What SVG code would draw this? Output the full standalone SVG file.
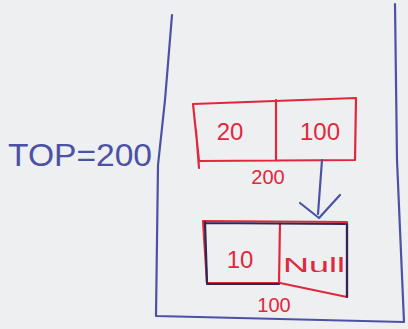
<svg xmlns="http://www.w3.org/2000/svg" width="408" height="329" viewBox="0 0 408 329">
<style>
.bg{fill:#eeeff1}
.blue{fill:none;stroke:#4b52a6;stroke-width:2.2;stroke-linecap:round;stroke-linejoin:round}
.navy{fill:none;stroke:#2c2a55;stroke-width:2.2;stroke-linecap:round}
.red{fill:none;stroke:#e0283c;stroke-width:2.2;stroke-linecap:round;stroke-linejoin:round}
.rt{fill:#e0283c;font-family:"Liberation Sans",sans-serif;text-anchor:middle}
.bt{fill:#4b52a6;font-family:"Liberation Sans",sans-serif}
</style>
<rect class="bg" x="0" y="0" width="408" height="329"/>
<g id="memory">
<path class="blue" d="M172,15 L165,100 L158,165 L156,316 L404,322 M395,4 L397,160 L404,322"/>
</g>
<g id="top-label">
<text class="bt" x="8" y="166" font-size="31" textLength="144" lengthAdjust="spacingAndGlyphs">TOP=200</text>
</g>
<g id="node-200">
<path class="red" d="M193,104 L356,98 L355,160 L199,161 Z M276,100 L276,161 M196,130 L199,168"/>
<text class="rt" x="230" y="140" font-size="24">20</text>
<text class="rt" x="320" y="140" font-size="24">100</text>
<text class="rt" x="268" y="184" font-size="20">200</text>
</g>
<g id="node-100">
<path class="red" d="M203,221 L347,222 L347,297 L280,283 L207,283 Z M280,222 L279,283"/>
<path class="navy" d="M205,223 L345,224 M205,222 L207,283 M347,224 L347,297 M207,284 L279,284"/>
<text class="rt" x="240" y="268" font-size="24">10</text>
<text class="rt" x="314" y="272" font-size="21" textLength="62" lengthAdjust="spacingAndGlyphs">Null</text>
<text class="rt" x="274" y="312" font-size="20">100</text>
</g>
<g id="connectors">
<path class="blue" d="M322,160 L318,214 M300,203 L319,218 L340,195"/>
</g>
</svg>
